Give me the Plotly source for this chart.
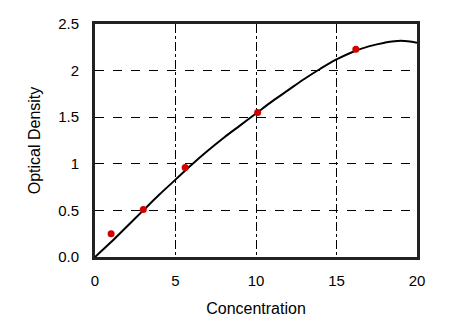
import plotly.graph_objects as go

# Standard readings (concentration vs. optical density)
conc = [1.0, 3.0, 5.6, 10.1, 16.2]
od = [0.25, 0.51, 0.96, 1.55, 2.23]

# Standard curve sampled along its length
curve_x = [0, 1, 2, 3, 4, 5, 6, 7, 8, 9, 10, 11, 12, 13, 14, 15, 16, 17, 18, 19, 20]
curve_y = [0.0, 0.16, 0.33, 0.50, 0.67, 0.83, 0.99, 1.14, 1.28, 1.41, 1.54,
           1.67, 1.79, 1.91, 2.02, 2.12, 2.20, 2.26, 2.30, 2.32, 2.30]

x_ticks = [0, 5, 10, 15, 20]
y_ticks = [0, 0.5, 1, 1.5, 2, 2.5]
y_tick_text = ["0.0", "0.5", "1", "1.5", "2", "2.5"]

fig = go.Figure()
fig.add_trace(go.Scatter(
    x=curve_x, y=curve_y, mode="lines",
    line=dict(color="black", width=2, shape="spline", smoothing=1.0),
    showlegend=False, hoverinfo="skip",
))
fig.add_trace(go.Scatter(
    x=conc, y=od, mode="markers",
    marker=dict(color="#d40000", size=7),
    showlegend=False,
))

font = dict(family="Arial, Liberation Sans, sans-serif", color="black")

fig.update_layout(
    width=463, height=334,
    margin=dict(l=95, r=46, t=24, b=77),
    paper_bgcolor="white", plot_bgcolor="white",
    font=font,
    xaxis=dict(
        range=[0, 20], tickvals=x_ticks, tickfont=dict(size=15),
        showgrid=True, gridcolor="black", griddash="dashdot", gridwidth=1.2,
        showline=True, linecolor="#222", linewidth=3, mirror=True,
        ticks="outside", ticklen=8, tickcolor="rgba(0,0,0,0)",
        zeroline=False,
        title=dict(text="Concentration", font=dict(size=16), standoff=15),
    ),
    yaxis=dict(
        range=[0, 2.5], tickvals=y_ticks, ticktext=y_tick_text, tickfont=dict(size=15),
        showgrid=True, gridcolor="black", griddash="dash", gridwidth=1.2,
        showline=True, linecolor="#222", linewidth=3, mirror=True,
        ticks="outside", ticklen=10, tickcolor="rgba(0,0,0,0)",
        zeroline=False,
        title=dict(text="Optical Density", font=dict(size=16), standoff=14),
    ),
)

fig.write_html("out.html")
